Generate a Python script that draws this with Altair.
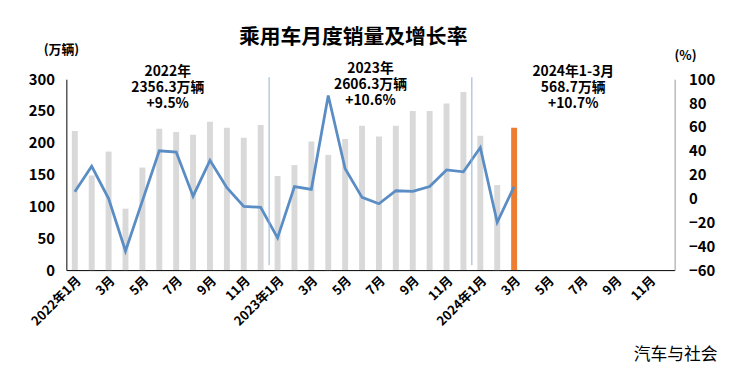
import altair as alt
import pandas as pd

FONT = "Noto Sans CJK SC"

months = [
    "2022-01", "2022-02", "2022-03", "2022-04", "2022-05", "2022-06",
    "2022-07", "2022-08", "2022-09", "2022-10", "2022-11", "2022-12",
    "2023-01", "2023-02", "2023-03", "2023-04", "2023-05", "2023-06",
    "2023-07", "2023-08", "2023-09", "2023-10", "2023-11", "2023-12",
    "2024-01", "2024-02", "2024-03", "2024-04", "2024-05", "2024-06",
    "2024-07", "2024-08", "2024-09", "2024-10", "2024-11", "2024-12",
]
month_labels = [
    "2022年1月", "", "3月", "", "5月", "", "7月", "", "9月", "", "11月", "",
    "2023年1月", "", "3月", "", "5月", "", "7月", "", "9月", "", "11月", "",
    "2024年1月", "", "3月", "", "5月", "", "7月", "", "9月", "", "11月", "",
]
# monthly passenger-vehicle sales (10k units)
sales = [
    218.6, 148.7, 186.3, 96.5, 161.2, 222.2, 217.0, 212.9, 233.2, 223.9, 207.9, 227.9,
    148.0, 165.0, 202.0, 181.0, 206.0, 227.0, 210.0, 227.0, 250.0, 250.0, 262.0, 280.0,
    211.2, 133.6, 223.9,
]
# y/y growth (%)
growth = [
    5.7, 27.0, 0.0, -44.0, -2.0, 40.0, 39.0, 2.0, 32.0, 9.0, -6.6, -7.4,
    -33.0, 10.0, 7.7, 86.4, 25.0, 1.0, -4.4, 6.5, 6.0, 10.0, 24.0, 22.4,
    42.7, -20.0, 10.0,
]
dividers = ["2023-01", "2024-01"]
ann_keys = ["2022-07", "2023-07", "2024-07"]
ann_texts = ["2022年\n2356.3万辆\n+9.5%", "2023年\n2606.3万辆\n+10.6%", "2024年1-3月\n568.7万辆\n+10.7%"]
ann_top = [-14, -17, -14]

n = len(sales)
df = pd.DataFrame({
    "month": months,
    "sales": sales + [None] * (len(months) - n),
    "growth": growth + [None] * (len(months) - n),
})
df_data = df.iloc[:n]

label_expr = "[" + ",".join(f"'{l}'" for l in month_labels) + "][indexof([" + \
    ",".join(f"'{m}'" for m in months) + "], datum.value)]"

x_enc = alt.X(
    "month:O",
    sort=months,
    scale=alt.Scale(domain=months, paddingInner=0, paddingOuter=0),
    axis=alt.Axis(
        title=None, labelExpr=label_expr, labelAngle=-45, labelFontSize=13,
        labelFontWeight="bold", labelColor="#000", labelFont=FONT, ticks=False,
        domainColor="#000", domainWidth=1, labelOverlap=False, labelPadding=4,
    ),
)

bars = alt.Chart(df_data).mark_bar(size=6).encode(
    x=x_enc,
    y=alt.Y(
        "sales:Q",
        scale=alt.Scale(domain=[0, 300], nice=False),
        axis=alt.Axis(
            title=None, orient="left", values=[0, 50, 100, 150, 200, 250, 300],
            labelFontSize=15, labelFontWeight="bold", labelColor="#000",
            labelFont=FONT, ticks=False, grid=False, domainColor="#000",
            labelPadding=12,
        ),
    ),
    color=alt.condition(alt.datum.month == "2024-03", alt.value("#ED7D31"), alt.value("#D9D9D9")),
)

line = alt.Chart(df_data).mark_line(color="#5B8DC5", strokeWidth=2.8).encode(
    x=alt.X("month:O", sort=months),
    y=alt.Y(
        "growth:Q",
        scale=alt.Scale(domain=[-60, 100], nice=False),
        axis=alt.Axis(
            title=None, orient="right", values=[-60, -40, -20, 0, 20, 40, 60, 80, 100],
            labelFontSize=15, labelFontWeight="bold", labelColor="#000",
            labelFont=FONT, ticks=False, grid=False, domainColor="#999",
            labelPadding=14,
        ),
    ),
)

div_df = pd.DataFrame({"month": dividers})
rules = alt.Chart(div_df).mark_rule(color="#8FB0D6", strokeWidth=1).encode(
    x=alt.X("month:O", sort=months, bandPosition=0),
    y=alt.value(-2),
    y2=alt.value(188),
)

layers = [bars, line, rules]
for k, t, top in zip(ann_keys, ann_texts, ann_top):
    a_df = pd.DataFrame({"month": [k], "text": [t]})
    layers.append(
        alt.Chart(a_df).mark_text(
            lineBreak="\n", baseline="top", align="center", fontSize=14,
            fontWeight="bold", font=FONT, lineHeight=16, color="#000",
        ).encode(
            x=alt.X("month:O", sort=months, bandPosition=0),
            y=alt.value(top),
            text="text:N",
        )
    )

def label(txt, x, y, size, weight="bold", align="center"):
    return alt.Chart(pd.DataFrame({"t": [txt]})).mark_text(
        fontSize=size, fontWeight=weight, font=FONT, align=align,
        baseline="middle", color="#000",
    ).encode(x=alt.value(x), y=alt.value(y), text="t:N")

layers += [
    label("乘用车月度销量及增长率", 290, -42, 21),
    label("(万辆)", -5, -29, 13),
    label("(%)", 626, -23, 13),
    label("汽车与社会", 616, 279, 17, weight="normal"),
]

chart = alt.layer(*layers).resolve_scale(y="independent").properties(
    width=615, height=193,
    autosize=alt.AutoSizeParams(type="none"),
    padding={"left": 59, "top": 70, "right": 58, "bottom": 100},
).configure_view(stroke=None)

chart.save("out.html", embed_options={"renderer": "svg", "actions": False})
